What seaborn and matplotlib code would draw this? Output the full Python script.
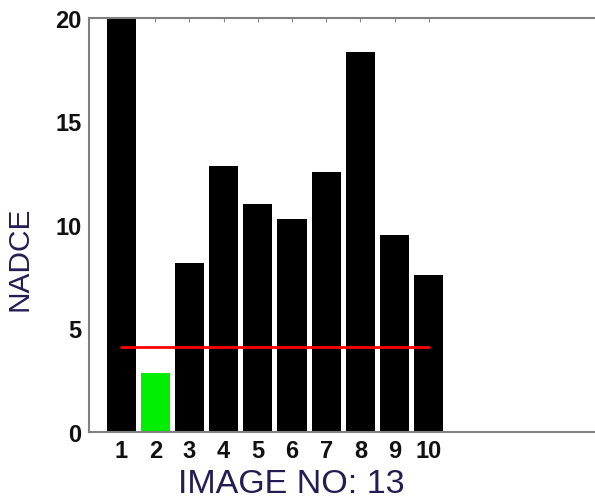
import numpy as np
import pandas as pd
import matplotlib
matplotlib.use("Agg")
import matplotlib.pyplot as plt
import seaborn as sns

# values
image_no = [1, 2, 3, 4, 5, 6, 7, 8, 9, 10]
nadce = [25.0, 2.85, 8.15, 12.85, 11.0, 10.3, 12.55, 18.35, 9.5, 7.6]
bar_colors = ["black", "#00ee00", "black", "black", "black", "black", "black", "black", "black", "black"]
threshold = 4.1
y_ticks = [0, 5, 10, 15, 20]

sns.set_style("white")
plt.rcParams["font.family"] = ["Liberation Sans", "DejaVu Sans"]

df = pd.DataFrame({"img": image_no, "nadce": nadce})

fig = plt.figure(figsize=(5.95, 5.02), dpi=100)
ax = fig.add_axes([0.149, 0.1375, 0.857, 0.825])

sns.barplot(data=df, x="img", y="nadce", hue="img", palette=bar_colors,
            native_scale=True, width=0.85, legend=False, ax=ax,
            edgecolor="none", saturation=1)
ax.plot([image_no[0], image_no[-1]], [threshold, threshold], color="red", lw=2)

ax.set_xlim(0.05, 14.97)
ax.set_ylim(0, 20)
ax.set_xticks(image_no)
ax.set_xticklabels([str(i) for i in image_no], fontsize=17, fontweight="bold", color="#111111")
ax.set_yticks(y_ticks)
ax.set_yticklabels([str(t) for t in y_ticks], fontsize=17, fontweight="bold", color="#111111")
ax.tick_params(direction="in", length=3, color="#888888", top=True, right=True, pad=5)

for s in ax.spines.values():
    s.set_color("#808080")
    s.set_linewidth(1.5)
# the right edge of the box lies just outside the picture
ax.spines["right"].set_visible(False)

ax.set_xlabel("IMAGE NO: 13", fontsize=24.5, color="#241c52", va="baseline")
ax.xaxis.set_label_coords(0.397, -0.146)
ax.set_ylabel("NADCE", fontsize=21.5, color="#241c52")
ax.yaxis.set_label_coords(-0.108, 0.42)

fig.savefig("out.png", dpi=100)
